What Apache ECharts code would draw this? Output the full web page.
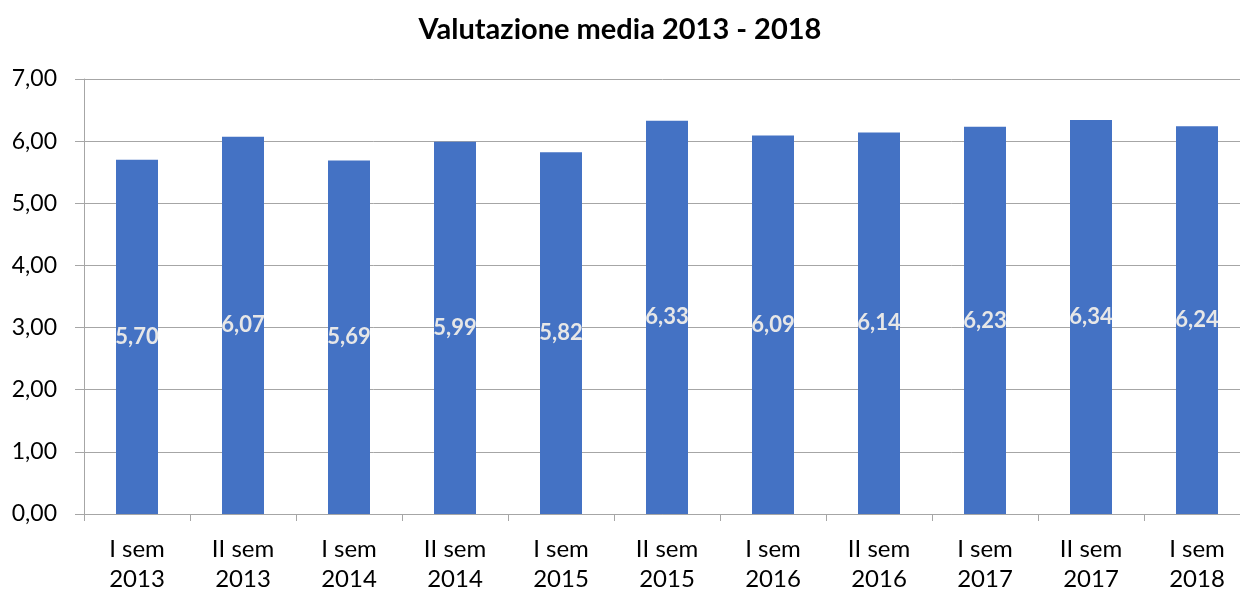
<!DOCTYPE html>
<html><head><meta charset="utf-8">
<script src="https://cdn.jsdelivr.net/npm/echarts@6/dist/echarts.min.js"></script>
<style>html,body{margin:0;padding:0;background:#fff}#c{width:1240px;height:592px}</style>
</head><body><div id="c"></div>
<script>
const categories = ["I sem\n2013","II sem\n2013","I sem\n2014","II sem\n2014","I sem\n2015","II sem\n2015","I sem\n2016","II sem\n2016","I sem\n2017","II sem\n2017","I sem\n2018"];
const values = [5.70, 6.07, 5.69, 5.99, 5.82, 6.33, 6.09, 6.14, 6.23, 6.34, 6.24];
const titleText = "Valutazione media 2013 - 2018";
const fmt = v => Number(v).toFixed(2).replace('.', ',');
const FONT = 'Lato, "Open Sans", sans-serif';
const chart = echarts.init(document.getElementById('c'), null, {renderer: 'canvas'});
chart.setOption({
  animation: false,
  title: {text: titleText, left: 'center', top: 10,
    textStyle: {fontFamily: FONT, fontWeight: 'bold', fontSize: 29, color: '#000'}},
  grid: {left: 84, width: 1166, top: 79, height: 435, containLabel: false, outerBoundsMode: 'none'},
  xAxis: {type: 'category', data: categories,
    axisLine: {lineStyle: {color: '#a6a6a6', width: 1}},
    axisTick: {show: true, length: 7, lineStyle: {color: '#a6a6a6'}},
    axisLabel: {fontFamily: FONT, fontSize: 24, color: '#000', lineHeight: 30, margin: 20}},
  yAxis: {type: 'value', min: 0, max: 7, interval: 1,
    axisLine: {show: true, lineStyle: {color: '#a6a6a6'}},
    axisTick: {show: true, length: 9, lineStyle: {color: '#a6a6a6'}},
    splitLine: {lineStyle: {color: '#a6a6a6', width: 1}},
    axisLabel: {fontFamily: FONT, fontSize: 23, color: '#000', margin: 27, formatter: fmt}},
  series: [{type: 'bar', data: values, barWidth: 42,
    itemStyle: {color: '#4472c4'},
    label: {show: true, position: 'inside', formatter: p => fmt(p.value),
      fontFamily: FONT, fontWeight: 'bold', fontSize: 22, color: '#e7e7e7'}}]
});
</script></body></html>
